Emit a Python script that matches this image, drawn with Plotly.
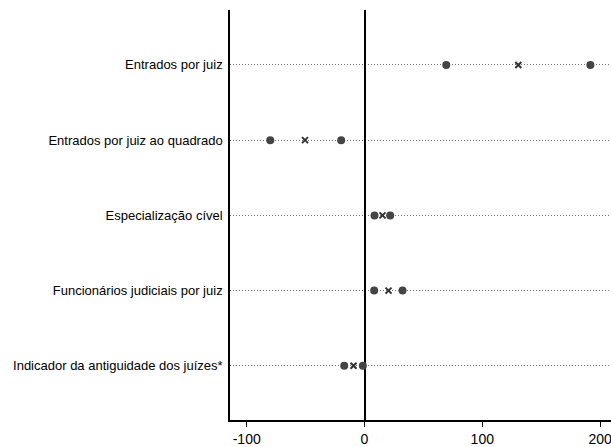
import plotly.graph_objects as go

categories = [
    "Indicador da antiguidade dos juízes*",
    "Funcionários judiciais por juiz",
    "Especialização cível",
    "Entrados por juiz ao quadrado",
    "Entrados por juiz",
]
lower = [-17.2, 8.2, 8.5, -80.0, 69.4]
estimate = [-9.3, 20.4, 15.3, -50.5, 130.6]
upper = [-1.4, 32.3, 21.8, -19.8, 191.8]
x_ticks = [-100, 0, 100, 200]
x_tick_labels = ["-100", "0", "100", "200"]

fig = go.Figure()
fig.add_trace(go.Scatter(x=lower, y=categories, mode="markers",
                         marker=dict(symbol="circle", size=8, color="#444444"),
                         showlegend=False, cliponaxis=False))
fig.add_trace(go.Scatter(x=upper, y=categories, mode="markers",
                         marker=dict(symbol="circle", size=8, color="#444444"),
                         showlegend=False, cliponaxis=False))
fig.add_trace(go.Scatter(x=estimate, y=categories, mode="markers",
                         marker=dict(symbol="x-thin", size=6, color="#333333",
                                     line=dict(width=2, color="#333333")),
                         showlegend=False))

fig.update_layout(
    width=611, height=447,
    margin=dict(l=230, r=0, t=10, b=27),
    plot_bgcolor="white", paper_bgcolor="white",
    font=dict(family="Liberation Sans, Arial, sans-serif", color="black"),
    xaxis=dict(range=[-114.2, 209.3], tickvals=x_ticks, ticktext=x_tick_labels,
               ticks="outside",
               ticklen=5, tickcolor="black", tickwidth=1,
               showline=True, linecolor="black", linewidth=1.5,
               showgrid=False, zeroline=True, zerolinecolor="black",
               zerolinewidth=2, tickfont=dict(size=14), automargin=False,
               ticklabeloverflow="allow"),
    yaxis=dict(type="category", categoryorder="array", categoryarray=categories,
               range=[-0.72, 4.73], showline=True, linecolor="black",
               linewidth=1.5, showgrid=True, gridcolor="#777777",
               griddash="1px,2px", gridwidth=1, ticks="", ticklen=0,
               ticklabelstandoff=3, automargin=False,
               tickfont=dict(size=13)),
)

fig.write_html(
    "out.html",
    config={"displayModeBar": False},
    post_script="document.body.style.margin='0';document.body.style.overflow='hidden';",
)
